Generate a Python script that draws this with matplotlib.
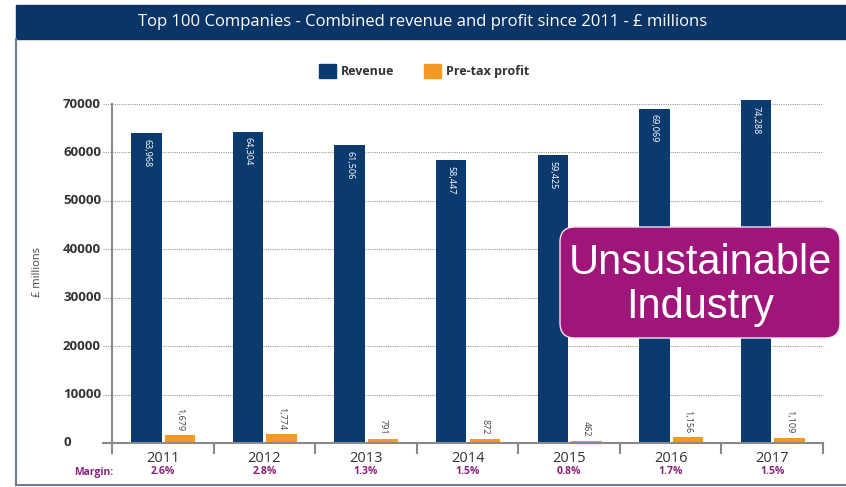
import numpy as np
import matplotlib
matplotlib.use("Agg")
from matplotlib import pyplot as plt
from matplotlib.patches import Rectangle, FancyBboxPatch, Patch
from matplotlib.lines import Line2D
from matplotlib.transforms import blended_transform_factory

# Data
years = ['2011', '2012', '2013', '2014', '2015', '2016', '2017']
revenue = [63968, 64304, 61506, 58447, 59425, 69069, 74288]
profit = [1679, 1774, 791, 872, 462, 1156, 1109]
margins = ['2.6%', '2.8%', '1.3%', '1.5%', '0.8%', '1.7%', '1.5%']
yticks = [0, 10000, 20000, 30000, 40000, 50000, 60000, 70000]

navy = '#0b3a6e'
orange = '#f39a22'
purple = '#a0157a'
textgray = '#333333'

plt.rcParams['font.family'] = ['Open Sans', 'DejaVu Sans']

W, H = 846, 487
fig = plt.figure(figsize=(W / 100, H / 100), dpi=100, facecolor='w')

def fx(px):
    return px / W

def fy(py):
    return 1 - py / H

# Title band and frame
fig.patches.append(Rectangle((fx(16), fy(39)), fx(830), 34 / H,
                             transform=fig.transFigure, color='#0b3566', zorder=0))
fig.lines.append(Line2D([fx(16), fx(16)], [fy(39), fy(485)], transform=fig.transFigure,
                        color='#6f7c8a', lw=1.5))
fig.lines.append(Line2D([fx(16), 1], [fy(485), fy(485)], transform=fig.transFigure,
                        color='#6f7c8a', lw=1.5))
fig.text(fx(423), fy(22), 'Top 100 Companies - Combined revenue and profit since 2011 - \u00a3 millions',
         color='w', fontsize=12, ha='center', va='center')

# Axes
ytop = 70800
ax = plt.axes([fx(112), 44 / H, 711 / W, (443 - 104) / 70000 * ytop / H])
ax.set_xlim(-0.5, len(years) - 0.5)
ax.set_ylim(0, ytop)
for s in ax.spines.values():
    s.set_visible(False)

x = np.arange(len(years))
w = 0.3
ax.bar(x - 0.16, revenue, w, color=navy, zorder=3)
ax.bar(x + 0.17, profit, w, color=orange, zorder=3)

# dotted gridlines, starting a little left of the axis
for t in yticks[1:]:
    ax.plot([-0.59, len(years) - 0.5], [t, t], ls=(0, (1, 1)), lw=0.8,
            color='#9a9a9a', clip_on=False, zorder=1)
ax.plot([-0.5, -0.5], [0, yticks[-1]], color='#8a8a8a', lw=1.5, clip_on=False, zorder=2)
ax.plot([-0.59, len(years) - 0.5], [0, 0], color='#8a8a8a', lw=1.5, clip_on=False, zorder=4)

# y tick labels, left aligned as in the original
ax.set_yticks([])
for t in yticks:
    ax.text(-0.0689, t, str(t), transform=ax.get_yaxis_transform(), ha='left', va='center',
            fontsize=9.5, fontweight='bold', color=textgray)
fig.text(fx(37), fy(272), '\u00a3 millions', rotation=90, ha='center', va='center',
         fontsize=8, color='#444444')

# x ticks: labels at centres, tick marks at boundaries
ax.set_xticks(x)
ax.set_xticklabels(years, fontsize=10.5, color=textgray)
ax.set_xticks(np.arange(len(years) + 1) - 0.5, minor=True)
ax.tick_params(axis='x', which='major', length=0, pad=6)
ax.tick_params(axis='x', which='minor', length=8, width=1.5, color='#8a8a8a')

# margin row
fig.text(fx(74), fy(472), 'Margin:', ha='left', va='center', fontsize=7.5,
         fontweight='bold', color='#8b2079')
mtrans = blended_transform_factory(ax.transData, fig.transFigure)
for i, m in enumerate(margins):
    ax.text(x[i], fy(472), m, transform=mtrans, ha='center', va='center', fontsize=7.5,
            fontweight='bold', color='#8b2079', clip_on=False)

# value labels
for i in range(len(years)):
    ax.annotate(f'{revenue[i]:,}', (x[i] - 0.16, min(revenue[i], ytop)), xytext=(0, -4),
                textcoords='offset points', rotation=-90, ha='center', va='top',
                fontsize=6.5, color='w', zorder=5)
    ax.annotate(f'{profit[i]:,}', (x[i] + 0.17, profit[i]), xytext=(0, 3),
                textcoords='offset points', rotation=-90, ha='center', va='bottom',
                fontsize=6.5, color='#444444', zorder=5)

# legend
handles = [Patch(color=navy, label='Revenue'), Patch(color=orange, label='Pre-tax profit')]
leg = fig.legend(handles=handles, loc='center', bbox_to_anchor=(fx(424), fy(71)), ncol=2,
                 frameon=False, handlelength=1.35, handleheight=1.35, handletextpad=0.4,
                 columnspacing=2.4, prop={'size': 9, 'weight': 'bold'})
for t in leg.get_texts():
    t.set_color(textgray)

# call-out box
box = FancyBboxPatch((5.60, 1.49), 2.80, 1.11, boxstyle='round,pad=0,rounding_size=0.15',
                     transform=fig.dpi_scale_trans, facecolor=purple, edgecolor='#f0e6f0',
                     lw=1, zorder=10)
fig.patches.append(box)
fig.text(fx(700), fy(285), 'Unsustainable\nIndustry', ha='center', va='center',
         fontsize=30, color='w', family='Liberation Sans', linespacing=1.15, zorder=11)

plt.savefig('out.png', dpi=100)
